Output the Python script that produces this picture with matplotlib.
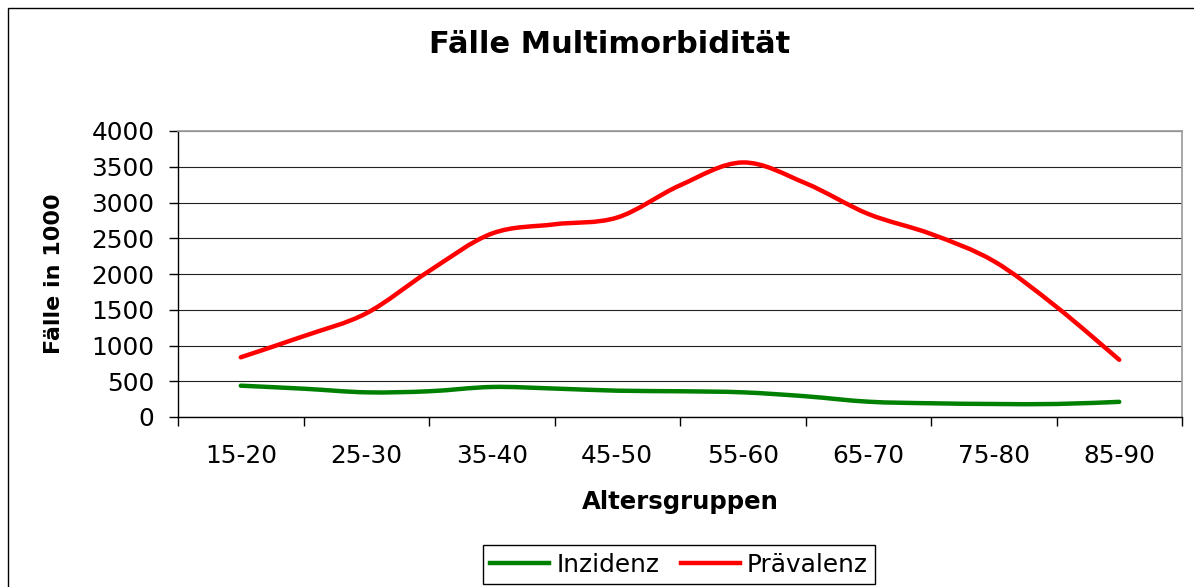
import numpy as np
import matplotlib.pyplot as plt
from matplotlib.path import Path
from matplotlib.patches import PathPatch, Rectangle
from matplotlib.lines import Line2D

# Daten
altersgruppen = ['15-20', '20-25', '25-30', '30-35', '35-40', '40-45', '45-50', '50-55',
                 '55-60', '60-65', '65-70', '70-75', '75-80', '80-85', '85-90']
inzidenz = [438, 396, 345, 360, 420, 398, 368, 360, 345, 290, 214, 192, 182, 182, 212]
praevalenz = [835, 1130, 1450, 2040, 2565, 2695, 2790, 3240, 3560, 3270, 2840, 2560, 2180, 1540, 800]
y_ticks = [0, 500, 1000, 1500, 2000, 2500, 3000, 3500, 4000]

GRUEN = '#008000'
ROT = '#ff0000'


def glatte_linie(ax, x, y, farbe):
    # geglaettete Linie wie in Excel (Catmull-Rom als Bezier-Kurve)
    pts = np.column_stack([x, y]).astype(float)
    n = len(pts)
    verts = [pts[0]]
    codes = [Path.MOVETO]
    for i in range(n - 1):
        p0 = pts[max(i - 1, 0)]
        p1 = pts[i]
        p2 = pts[i + 1]
        p3 = pts[min(i + 2, n - 1)]
        verts += [p1 + (p2 - p0) / 6, p2 - (p3 - p1) / 6, p2]
        codes += [Path.CURVE4] * 3
    ax.add_patch(PathPatch(Path(verts, codes), fill=False, edgecolor=farbe, lw=3.2,
                           capstyle='round', joinstyle='round', zorder=3))


fig = plt.figure(figsize=(11.94, 5.87), dpi=100)
ax = fig.add_axes([178 / 1194, 1 - 417 / 587, 1004 / 1194, 286 / 587])

x = np.arange(len(altersgruppen))
glatte_linie(ax, x, inzidenz, GRUEN)
glatte_linie(ax, x, praevalenz, ROT)

ax.set_xlim(-1, len(altersgruppen))
ax.set_ylim(0, 4000)

# x-Achse: Striche zwischen den Gruppen, Beschriftung jede zweite Gruppe
ax.set_xticks(np.arange(-1, len(altersgruppen) + 1, 2))
ax.set_xticklabels([])
ax.set_xticks(x[::2], minor=True)
ax.set_xticklabels(altersgruppen[::2], minor=True)
ax.tick_params(axis='x', which='major', direction='out', length=6.5, width=1, color='black')
ax.tick_params(axis='x', which='minor', length=0, pad=19.5, labelsize=17.8)

ax.set_yticks(y_ticks)
ax.tick_params(axis='y', direction='out', length=6.5, width=1, color='black',
               pad=10.5, labelsize=17.8)

ax.grid(axis='y', color='#222222', lw=0.8)
ax.set_axisbelow(True)
for s in ['top', 'right']:
    ax.spines[s].set_color('#a0a0a0')
    ax.spines[s].set_linewidth(1.3)
for s in ['left', 'bottom']:
    ax.spines[s].set_color('black')
    ax.spines[s].set_linewidth(1)

ax.set_xlabel('Altersgruppen', fontsize=17.6, fontweight='bold', va='baseline')
ax.xaxis.set_label_coords(0.5, (417 - 509.3) / 286)
ax.set_ylabel('Fälle in 1000', fontsize=16, fontweight='bold', va='baseline')
ax.yaxis.set_label_coords((60 - 178) / 1004, 0.5)

fig.text(610 / 1194, 1 - 53.3 / 587, 'Fälle Multimorbidität', fontsize=22,
         fontweight='bold', ha='center', va='baseline')

handles = [Line2D([], [], color=GRUEN, lw=3.2), Line2D([], [], color=ROT, lw=3.2)]
leg = fig.legend(handles, ['Inzidenz', 'Prävalenz'], loc='center', ncol=2,
                 bbox_to_anchor=(679 / 1194, 1 - 564.5 / 587), fontsize=17.8,
                 frameon=True, fancybox=False, framealpha=1, edgecolor='black',
                 borderpad=0.3, handlelength=2.39, handletextpad=0.3, columnspacing=0.85)
leg.get_frame().set_linewidth(1)

# Rahmen um das ganze Diagramm (rechts und unten abgeschnitten)
fig.add_artist(Rectangle((8 / 1194, -0.1), 1.2, 1 - 8 / 587 + 0.1, transform=fig.transFigure,
                         fill=False, edgecolor='black', lw=1))

fig.savefig('out.png', dpi=100)
